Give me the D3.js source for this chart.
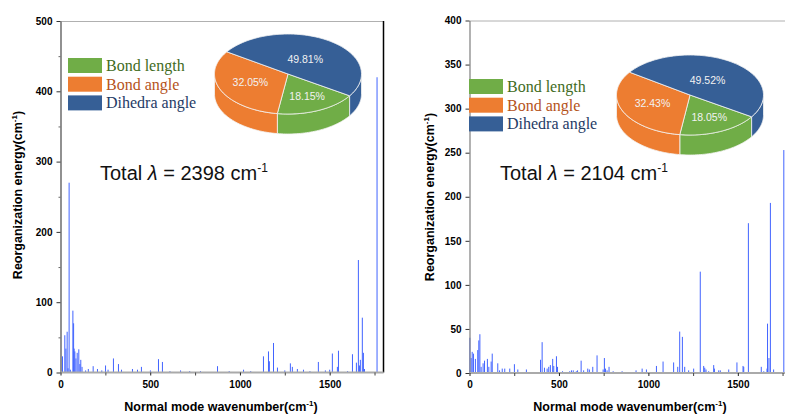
<!DOCTYPE html>
<html>
<head>
<meta charset="utf-8">
<script src="https://cdn.jsdelivr.net/npm/d3@7"></script>
<style>
  body { margin: 0; background: #fff; }
  svg { display: block; }
  .tick text { font-family: "Liberation Sans", Arial, sans-serif; font-weight: bold; font-size: 10px; fill: #000; }
</style>
</head>
<body>
<script>
// left panel: wavenumber / reorganization energy per mode
const leftWave = [11, 24, 30, 37, 42, 48, 55, 69, 73, 76, 80, 86, 93, 102, 108, 113, 120, 140, 155, 182,
  206, 230, 251, 265, 295, 323, 340, 401, 429, 451, 501, 546, 568, 610, 669, 720, 780, 875, 940, 1020,
  1060, 1131, 1159, 1164, 1187, 1209, 1250, 1281, 1292, 1320, 1354, 1390, 1437, 1476, 1500, 1515, 1543,
  1549, 1600, 1627, 1649, 1660, 1666, 1671, 1682, 1688, 1694, 1764];
const leftVal = [23, 53, 34, 58, 6, 270, 4, 88, 70, 34, 30, 20, 28, 33, 12, 18, 8, 3, 5, 9,
  5, 3, 10, 4, 20, 12, 4, 5, 4, 8, 3, 19, 15, 2, 3, 2, 2, 9, 2, 4,
  2, 23, 30, 16, 42, 7, 3, 13, 8, 5, 4, 2, 15, 3, 4, 27, 8,
  31, 2, 26, 14, 160, 10, 18, 78, 28, 5, 420];

// right panel
const rightWave = [2, 9, 15, 22, 33, 46, 52, 58, 65, 76, 84, 100, 108, 121, 127, 158, 168, 183, 197, 225,
  251, 270, 318, 397, 406, 419, 434, 443, 452, 465, 471, 486, 492, 520, 560, 570, 580, 597, 604, 624,
  638, 661, 670, 689, 713, 747, 754, 760, 769, 780, 803, 853, 881, 931, 965, 989, 1045, 1082, 1141, 1164,
  1175, 1190, 1203, 1225, 1253, 1290, 1309, 1315, 1322, 1337, 1365, 1369, 1393, 1402, 1449, 1486, 1495,
  1529, 1533, 1559, 1631, 1645, 1663, 1666, 1674, 1682, 1700, 1757];
const rightVal = [40, 17, 24, 22, 16, 26, 37, 44, 7, 11, 14, 16, 7, 13, 22, 11, 3, 5, 5, 5,
  10, 4, 4, 15, 35, 6, 5, 7, 9, 16, 8, 19, 7, 2, 2, 3, 3, 2, 3, 14,
  3, 5, 4, 7, 20, 4, 17, 5, 3, 7, 2, 2, 1, 3, 5, 4, 8, 13, 12, 7,
  47, 41, 7, 3, 5, 115, 8, 6, 4, 2, 9, 5, 3, 3, 4, 1, 12,
  8, 7, 170, 7, 2, 5, 56, 17, 193, 4, 253];

const pieLabels = ["Bond length", "Bond angle", "Dihedra angle"];
const leftPie = [18.15, 32.05, 49.81];
const rightPie = [18.05, 32.43, 49.52];
const leftTotal = "2398";
const rightTotal = "2104";

const pieColors = ["#70ad47", "#ed7d31", "#365f96"];
const legendText = ["#3f6b22", "#b5531a", "#1f3b66"];

const svg = d3.select("body").append("svg")
  .attr("width", 785)
  .attr("height", 417);

function panel(opt) {
  const x = d3.scaleLinear().domain([0, 1800]).range(opt.xRange);
  const y = d3.scaleLinear().domain([0, opt.yMax]).range([opt.bottom, opt.top]);
  const g = svg.append("g");

  // frame
  g.append("line").attr("x1", opt.xRange[0]).attr("x2", opt.frameRight)
    .attr("y1", opt.top + 0.5).attr("y2", opt.top + 0.5)
    .attr("stroke", "#b0b0b0").attr("stroke-width", 1);
  if (opt.rightBorder) {
    g.append("line").attr("x1", opt.frameRight).attr("x2", opt.frameRight)
      .attr("y1", opt.top).attr("y2", opt.bottom)
      .attr("stroke", "#000").attr("stroke-width", 1.5);
  }

  // bars
  g.append("g").selectAll("rect")
    .data(opt.wave.map((w, i) => ({ w: w, v: opt.val[i] })))
    .join("rect")
    .attr("x", d => x(d.w) - 0.5)
    .attr("width", 1)
    .attr("y", d => y(d.v))
    .attr("height", d => y(0) - y(d.v))
    .attr("fill", "#4264ff");

  // axes
  const yAx = g.append("g").attr("transform", `translate(${opt.xRange[0]},0)`)
    .call(d3.axisLeft(y).tickValues(d3.range(0, opt.yMax + 1, opt.yStep)).tickSize(4).tickPadding(4).tickSizeOuter(0));
  yAx.select(".domain").attr("stroke", opt.yAxisColor).attr("stroke-width", 1.3);
  yAx.selectAll(".tick line").attr("stroke", "#333");
  if (opt.yMinor) {
    g.append("g").attr("transform", `translate(${opt.xRange[0]},0)`)
      .call(d3.axisLeft(y).tickValues(d3.range(opt.yMinor, opt.yMax, opt.yStep)).tickSize(2).tickFormat(""))
      .call(s => s.select(".domain").remove())
      .selectAll("line").attr("stroke", "#666");
  }

  const xAx = g.append("g").attr("transform", `translate(0,${opt.bottom})`)
    .call(d3.axisBottom(x).tickValues([0, 500, 1000, 1500]).tickFormat(d3.format("d"))
      .tickSize(3).tickPadding(5).tickSizeOuter(0));
  xAx.select(".domain").attr("stroke", "#aaa").attr("stroke-width", 2)
    .attr("d", `M${opt.xRange[0]},0H${opt.frameRight}`);
  xAx.selectAll(".tick line").attr("stroke", "#222");
  g.append("g").attr("transform", `translate(0,${opt.bottom})`)
    .call(d3.axisBottom(x).tickValues([250, 750, 1250, 1750]).tickSize(3).tickFormat(""))
    .call(s => s.select(".domain").remove())
    .selectAll("line").attr("stroke", "#444");

  // axis titles
  const yt = g.append("text")
    .attr("transform", `translate(${opt.yTitleX},${opt.yTitleY}) rotate(-90)`)
    .attr("text-anchor", "middle")
    .style("font-family", "Liberation Sans, Arial, sans-serif")
    .style("font-weight", "bold").style("font-size", "12.5px");
  yt.append("tspan").text("Reorganization energy(cm");
  yt.append("tspan").attr("dy", -5).style("font-size", "8px").text("-1");
  yt.append("tspan").attr("dy", 5).text(")");

  const xt = g.append("text")
    .attr("x", opt.xTitleX).attr("y", 411)
    .attr("text-anchor", "middle")
    .style("font-family", "Liberation Sans, Arial, sans-serif")
    .style("font-weight", "bold").style("font-size", "12.5px");
  xt.append("tspan").text("Normal mode wavenumber(cm");
  xt.append("tspan").attr("dy", -5).style("font-size", "8px").text("-1");
  xt.append("tspan").attr("dy", 5).text(")");

  // total lambda
  const tt = g.append("text")
    .attr("x", opt.totalX).attr("y", 180)
    .style("font-family", "Liberation Sans, Arial, sans-serif")
    .style("font-size", "20px").attr("fill", "#111");
  tt.append("tspan").text("Total ");
  tt.append("tspan").style("font-style", "italic").text("\u03bb");
  tt.append("tspan").text(" = " + opt.total + " cm");
  tt.append("tspan").attr("dy", -8).style("font-size", "12px").text("-1");

  // legend
  const lg = g.append("g");
  pieLabels.forEach((lab, i) => {
    lg.append("rect")
      .attr("x", opt.legendX).attr("y", opt.legendY + i * 18.7)
      .attr("width", 34).attr("height", 15)
      .attr("fill", pieColors[i]);
    lg.append("text")
      .attr("x", opt.legendX + 38).attr("y", opt.legendY + i * 18.7 + 13)
      .style("font-family", "Liberation Serif, Times New Roman, serif")
      .style("font-size", "16px")
      .attr("fill", legendText[i])
      .text(lab);
  });

  drawPie(opt.pie, opt.pieCx, opt.pieCy);
}

function drawPie(values, cx, cy) {
  const rx = 73.5, ry = 40, depth = 20;
  const start = (33 + 90) * Math.PI / 180;
  const arcs = d3.pie().sort(null).startAngle(start).endAngle(start + 2 * Math.PI)(values);
  const pt = (t, dy) => [cx + rx * Math.cos(t), cy + ry * Math.sin(t) + (dy || 0)];
  const g = svg.append("g");

  // side walls (front half: param angle 0..PI, plus wrap 2PI..3PI)
  arcs.forEach((a, i) => {
    const t0 = a.startAngle - Math.PI / 2, t1 = a.endAngle - Math.PI / 2;
    [[0, Math.PI], [2 * Math.PI, 3 * Math.PI]].forEach(([lo, hi]) => {
      const s = Math.max(t0, lo), e = Math.min(t1, hi);
      if (e <= s) return;
      const n = 40, top = [], bot = [];
      for (let k = 0; k <= n; k++) {
        const t = s + (e - s) * k / n;
        top.push(pt(t));
        bot.push(pt(t, depth));
      }
      g.append("path")
        .attr("d", d3.line()(top.concat(bot.reverse())) + "Z")
        .attr("fill", pieColors[i])
        .attr("stroke", "#f4f4f4").attr("stroke-width", 0.8);
    });
  });

  // top faces
  arcs.forEach((a, i) => {
    const t0 = a.startAngle - Math.PI / 2, t1 = a.endAngle - Math.PI / 2;
    const n = 80, pts = [[cx, cy]];
    for (let k = 0; k <= n; k++) pts.push(pt(t0 + (t1 - t0) * k / n));
    g.append("path")
      .attr("d", d3.line()(pts) + "Z")
      .attr("fill", pieColors[i])
      .attr("stroke", "#f4f4f4").attr("stroke-width", 0.8);
    // label at the sector centroid
    const sweep = t1 - t0, tm = (t0 + t1) / 2;
    const f = 4 * Math.sin(sweep / 2) / (3 * sweep);
    const lp = [cx + rx * f * Math.cos(tm), cy + ry * f * Math.sin(tm)];
    g.append("text")
      .attr("x", lp[0]).attr("y", lp[1])
      .attr("text-anchor", "middle")
      .attr("dominant-baseline", "middle")
      .style("font-family", "Liberation Sans, Arial, sans-serif")
      .style("font-size", "10.5px")
      .attr("fill", "#f2f2f2")
      .text(a.data.toFixed(2) + "%");
  });
}

panel({
  wave: leftWave, val: leftVal, yMax: 500, yStep: 100, yMinor: 50,
  xRange: [60.5, 383.5], frameRight: 383.5, rightBorder: true,
  top: 21, bottom: 372.5, yAxisColor: "#555",
  yTitleX: 22, yTitleY: 195, xTitleX: 221,
  total: leftTotal, totalX: 100,
  legendX: 68, legendY: 58,
  pie: leftPie, pieCx: 288, pieCy: 74
});

panel({
  wave: rightWave, val: rightVal, yMax: 400, yStep: 50, yMinor: 0,
  xRange: [469.5, 791.5], frameRight: 791.5, rightBorder: false,
  top: 20.5, bottom: 373, yAxisColor: "#888",
  yTitleX: 434, yTitleY: 197, xTitleX: 630,
  total: rightTotal, totalX: 500,
  legendX: 469, legendY: 79,
  pie: rightPie, pieCx: 690, pieCy: 95
});
</script>
</body>
</html>
